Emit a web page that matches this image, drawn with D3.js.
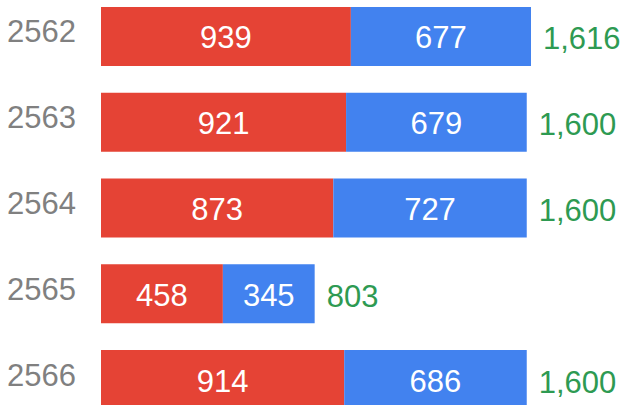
<!DOCTYPE html>
<html>
<head>
<meta charset="utf-8">
<script src="https://cdn.jsdelivr.net/npm/d3@7"></script>
<style>
  body { margin: 0; background: #fff; }
  svg text { font-family: 'Liberation Sans', Arial, Helvetica, sans-serif; }
</style>
</head>
<body>
<div class="bar-chart-container"></div>
<script>
// data
const years = ['2562', '2563', '2564', '2565', '2566'];
const redValues = [939, 921, 873, 458, 914];
const blueValues = [677, 679, 727, 345, 686];
const totals = years.map((d, i) => redValues[i] + blueValues[i]);

const colors = { red: '#E54335', blue: '#4282EF', total: '#2E9A52', year: '#808080' };

function setupCanvas() {
    const svg_width = 623;
    const svg_height = 405;

    const svg = d3.select('.bar-chart-container').append('svg')
        .attr('width', svg_width).attr('height', svg_height);

    // x: value -> pixels, bars start at 101
    const xScale = d3.scaleLinear().domain([0, d3.max(totals)]).range([101, 531]);
    // y: one band per year, bar height ~59
    const yScale = d3.scaleBand().domain(years).range([7, 409])
        .paddingInner(0.312).paddingOuter(0);

    const rows = years.map((y, i) => ({ year: y, red: redValues[i], blue: blueValues[i], total: totals[i] }));

    const g = svg.append('g').attr('class', 'bars');
    const row = g.selectAll('.row').data(rows).enter()
        .append('g').attr('class', 'row');

    // red segment
    row.append('rect')
        .attr('x', xScale(0))
        .attr('y', d => yScale(d.year))
        .attr('width', d => xScale(d.red) - xScale(0))
        .attr('height', yScale.bandwidth())
        .style('fill', colors.red);

    // blue segment stacked after red
    row.append('rect')
        .attr('x', d => xScale(d.red))
        .attr('y', d => yScale(d.year))
        .attr('width', d => xScale(d.red + d.blue) - xScale(d.red))
        .attr('height', yScale.bandwidth())
        .style('fill', colors.blue);

    const mid = d => yScale(d.year) + yScale.bandwidth() / 2;
    const fs = '31px';

    // values inside segments
    row.append('text')
        .attr('x', d => (xScale(0) + xScale(d.red)) / 2)
        .attr('y', d => mid(d) + 12)
        .attr('text-anchor', 'middle')
        .style('font-size', fs).style('fill', '#fff')
        .text(d => d3.format(',')(d.red));
    row.append('text')
        .attr('x', d => (xScale(d.red) + xScale(d.red + d.blue)) / 2)
        .attr('y', d => mid(d) + 12)
        .attr('text-anchor', 'middle')
        .style('font-size', fs).style('fill', '#fff')
        .text(d => d3.format(',')(d.blue));

    // totals at bar end
    row.append('text')
        .attr('x', d => xScale(d.total) + 12)
        .attr('y', d => mid(d) + 13)
        .style('font-size', fs).style('fill', colors.total)
        .text(d => d3.format(',')(d.total));

    // year labels on the left
    row.append('text')
        .attr('x', 7)
        .attr('y', d => mid(d) + 6)
        .style('font-size', fs).style('fill', colors.year)
        .text(d => d.year);
}

setupCanvas();
</script>
</body>
</html>
